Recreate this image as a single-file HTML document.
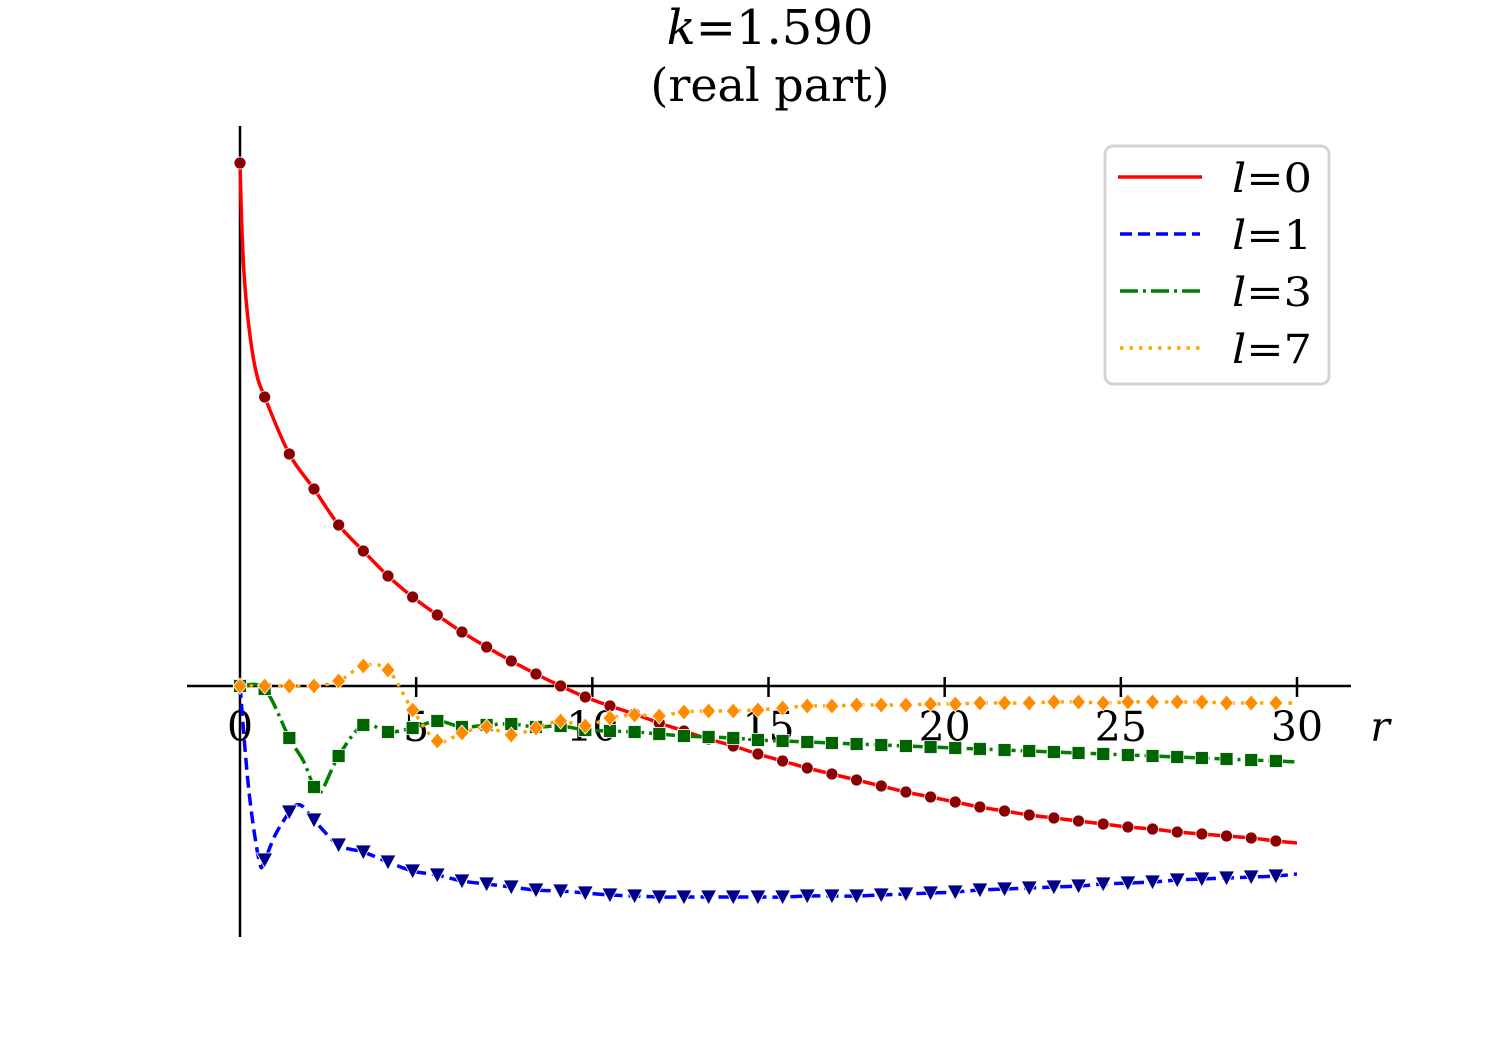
<!DOCTYPE html>
<html><head><meta charset="utf-8"><style>
html,body{margin:0;padding:0;background:#fff;}
svg{display:block;font-family:"DejaVu Serif","Liberation Serif",serif;}
</style></head><body>
<svg id="chart" width="1500" height="1050" viewBox="0 0 1500 1050">
<text x="770" y="44" text-anchor="middle" font-size="48"><tspan font-style="italic">k</tspan>=1.590</text>
<text x="770" y="101" text-anchor="middle" font-size="46">(real part)</text>
<g id="axes"></g>
<g id="series"></g>
<g>
<rect x="1105" y="146" width="224" height="238" rx="8" fill="#fff" stroke="#d4d4d4" stroke-width="3"/>
<g><line x1="1118" y1="177" x2="1202" y2="177" stroke="red" stroke-width="3.5"/><text x="1232" y="192" font-size="40" textLength="80" lengthAdjust="spacingAndGlyphs"><tspan font-style="italic">l</tspan>=0</text></g>
<g><line x1="1120" y1="234" x2="1200" y2="234" stroke="blue" stroke-width="3.5" stroke-dasharray="12,6"/><text x="1232" y="249" font-size="40" textLength="80" lengthAdjust="spacingAndGlyphs"><tspan font-style="italic">l</tspan>=1</text></g>
<g><line x1="1120" y1="291" x2="1200" y2="291" stroke="green" stroke-width="3.5" stroke-dasharray="18,5,3,5"/><text x="1232" y="306" font-size="40" textLength="80" lengthAdjust="spacingAndGlyphs"><tspan font-style="italic">l</tspan>=3</text></g>
<g><line x1="1120" y1="348" x2="1200" y2="348" stroke="orange" stroke-width="3.5" stroke-dasharray="3.5,6"/><text x="1232" y="363" font-size="40" textLength="80" lengthAdjust="spacingAndGlyphs"><tspan font-style="italic">l</tspan>=7</text></g>
</g>
</svg>
<script>
const markerStep = 0.7;
const xTicks = [0,5,10,15,20,25,30];
const red = [5.23,2.89,2.32,1.97,1.61,1.35,1.10,0.89,0.71,0.54,0.39,0.25,0.12,0,-0.11,-0.20,-0.28,-0.37,-0.45,-0.53,-0.60,-0.68,-0.75,-0.82,-0.88,-0.94,-1.00,-1.06,-1.11,-1.16,-1.21,-1.25,-1.29,-1.32,-1.35,-1.38,-1.41,-1.43,-1.46,-1.48,-1.50,-1.52,-1.55];
const redExtraR = [0.05,0.12,0.25,0.45,30];
const redExtraV = [4.6,4.1,3.6,3.15,-1.57];
const blue = [0,-1.74,-1.26,-1.34,-1.59,-1.66,-1.76,-1.85,-1.89,-1.95,-1.98,-2.01,-2.04,-2.05,-2.07,-2.09,-2.10,-2.11,-2.11,-2.11,-2.11,-2.11,-2.11,-2.10,-2.10,-2.10,-2.09,-2.08,-2.07,-2.06,-2.04,-2.03,-2.02,-2.01,-2.00,-1.98,-1.97,-1.96,-1.94,-1.93,-1.92,-1.91,-1.90];
const blueExtraR = [0.25,0.55,1.0,1.6,1.8,30];
const blueExtraV = [-1.04,-1.76,-1.49,-1.19,-1.21,-1.88];
const green = [0,-0.03,-0.52,-1.01,-0.70,-0.39,-0.46,-0.42,-0.35,-0.41,-0.39,-0.38,-0.41,-0.40,-0.44,-0.45,-0.46,-0.48,-0.50,-0.51,-0.52,-0.54,-0.55,-0.56,-0.57,-0.58,-0.59,-0.60,-0.61,-0.62,-0.63,-0.64,-0.65,-0.66,-0.67,-0.68,-0.69,-0.70,-0.71,-0.72,-0.73,-0.74,-0.75];
const greenExtraR = [1.8,2.3,30];
const greenExtraV = [-0.75,-1.06,-0.76];
const orange = [0,0,0,0,0.05,0.20,0.16,-0.24,-0.55,-0.47,-0.41,-0.49,-0.42,-0.35,-0.40,-0.32,-0.29,-0.30,-0.26,-0.25,-0.25,-0.24,-0.22,-0.20,-0.20,-0.19,-0.19,-0.19,-0.18,-0.18,-0.17,-0.17,-0.17,-0.16,-0.16,-0.17,-0.16,-0.16,-0.16,-0.16,-0.17,-0.17,-0.17];
const orangeExtraR = [30];
const orangeExtraV = [-0.17];

const NS = "http://www.w3.org/2000/svg";
function xs(r){ return 240 + r*(1297-240)/30; }
function ys(v){ return 686 - v*100; }
function mk(tag, attrs, parent){ const e=document.createElementNS(NS,tag); for(const k in attrs) e.setAttribute(k,attrs[k]); parent.appendChild(e); return e; }

const axes = document.getElementById('axes');
const xAxis = mk('line',{x1:187,y1:686,x2:1351,y2:686,stroke:'#000','stroke-width':2.5},axes);


const yAxis = mk('line',{x1:240,y1:126,x2:240,y2:937,stroke:'#000','stroke-width':2.5},axes);


xTicks.forEach(t=>{
  const tk = mk('line',{x1:xs(t),y1:677,x2:xs(t),y2:697,stroke:'#000','stroke-width':2.5},axes);
  
  
  const lb = mk('text',{x:xs(t),y:741,'text-anchor':'middle','font-size':41},axes);
  lb.textContent = t;
  
  
});
const rl = mk('text',{x:1380,y:741,'text-anchor':'middle','font-size':41,'font-style':'italic'},axes);
rl.textContent='r';



const sg = document.getElementById('series');
function smoothPath(P){
  let d='M'+P[0][0].toFixed(1)+','+P[0][1].toFixed(1);
  for(let i=0;i<P.length-1;i++){
    const p0=P[Math.max(0,i-1)],p1=P[i],p2=P[i+1],p3=P[Math.min(P.length-1,i+2)];
    const c1=[p1[0]+(p2[0]-p0[0])/6,p1[1]+(p2[1]-p0[1])/6];
    const c2=[p2[0]-(p3[0]-p1[0])/6,p2[1]-(p3[1]-p1[1])/6];
    if(c1[0]<p1[0])c1[0]=p1[0]; if(c2[0]>p2[0])c2[0]=p2[0];
    d+=` C${c1[0].toFixed(1)},${c1[1].toFixed(1)} ${c2[0].toFixed(1)},${c2[1].toFixed(1)} ${p2[0].toFixed(1)},${p2[1].toFixed(1)}`;
  }
  return d;
}
function drawSeries(name, vals, exR, exV, color, dash, mcolor, shape){
  let pts = vals.map((v,i)=>[i*markerStep, v]);
  exR.forEach((r,i)=>pts.push([r, exV[i]]));
  pts.sort((a,b)=>a[0]-b[0]);
  const P = pts.map(p=>[xs(p[0]),ys(p[1])]);
  const path = mk('path',{d:smoothPath(P),fill:'none',stroke:color,'stroke-width':3.5,'stroke-dasharray':dash,'stroke-linejoin':'round'},sg);
  
  
  vals.forEach((v,i)=>{
    const cx = xs(i*markerStep), cy = ys(v);
    let m;
    if(shape==='circle') m = mk('circle',{cx:cx,cy:cy,r:6,fill:mcolor,stroke:'#fff','stroke-width':0.8},sg);
    else if(shape==='tri') m = mk('polygon',{points:`${cx-8},${cy-7} ${cx+8},${cy-7} ${cx},${cy+8}`,fill:mcolor,stroke:'#fff','stroke-width':0.8},sg);
    else if(shape==='square') m = mk('rect',{x:cx-6.5,y:cy-6.5,width:13,height:13,fill:mcolor,stroke:'#fff','stroke-width':0.8},sg);
    else m = mk('polygon',{points:`${cx},${cy-8} ${cx+7},${cy} ${cx},${cy+8} ${cx-7},${cy}`,fill:mcolor,stroke:'#fff','stroke-width':0.8},sg);
    
    
  });
}
drawSeries('l0', red, redExtraR, redExtraV, 'red', 'none', '#8b0000', 'circle');
drawSeries('l1', blue, blueExtraR, blueExtraV, 'blue', '12,6', '#00008b', 'tri');
drawSeries('l3', green, greenExtraR, greenExtraV, 'green', '18,5,3,5', '#006400', 'square');
drawSeries('l7', orange, orangeExtraR, orangeExtraV, 'orange', '3.5,6', '#ff8c00', 'diamond');
</script>
</body></html>
